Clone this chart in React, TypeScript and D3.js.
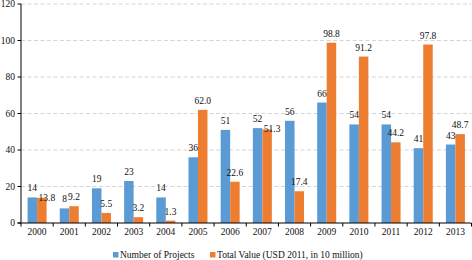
import React from "react";
import * as d3 from "d3";

const years = ["2000","2001","2002","2003","2004","2005","2006","2007","2008","2009","2010","2011","2012","2013"];
const projects = [14, 8, 19, 23, 14, 36, 51, 52, 56, 66, 54, 54, 41, 43];
const totalValue = [13.8, 9.2, 5.5, 3.2, 1.3, 62.0, 22.6, 51.3, 17.4, 98.8, 91.2, 44.2, 97.8, 48.7];
const yTicks = [0, 20, 40, 60, 80, 100, 120];
const seriesNames = ["Number of Projects", "Total Value (USD 2011, in 10 million)"];

const W = 472, H = 260;
const left = 21, right = 471.5, top = 4, bottom = 223;
const BLUE = "#5B9BD5", ORANGE = "#ED7D31";
const FONT = "'Liberation Serif', 'Times New Roman', serif";
const FS = 9.5;

export default function App() {
  const x = d3.scaleBand<string>().domain(years).range([left, right]).padding(0);
  const y = d3.scaleLinear().domain([0, 120]).range([bottom, top]);
  const groupW = 19;
  const sub = d3.scaleBand<string>().domain(["a", "b"]).range([0, groupW]).padding(0);
  const bw = sub.bandwidth();
  const off = (x.bandwidth() - groupW) / 2;

  const labelW = (s: string) => s.length * FS * 0.48;

  return (
    <svg width={W} height={H} style={{ position: "absolute", left: 0, top: 0 }} fontFamily={FONT}>
      <rect width={W} height={H} fill="#fff" />
      {yTicks.filter(t => t > 0).map(t => (
        <line key={"g" + t} x1={left} x2={right} y1={y(t)} y2={y(t)} stroke="#d4d4d4" strokeWidth={1} strokeDasharray="4,2.5" />
      ))}
      {years.map((yr, i) => {
        const x0 = (x(yr) as number) + off;
        const bx = x0 + (sub("a") as number);
        const ox = x0 + (sub("b") as number);
        const bTop = y(projects[i]);
        const oTop = y(totalValue[i]);
        const bLabel = String(projects[i]);
        const oLabel = totalValue[i].toFixed(1);
        const bCx = bx + bw / 2, oCx = ox + bw / 2;
        const bBase = bTop - 6;
        let oBase = oTop - 6;
        let oX = oCx;
        // collision with blue label
        const bL = bCx - labelW(bLabel) / 2, bR = bCx + labelW(bLabel) / 2;
        const oL = oCx - labelW(oLabel) / 2;
        if (Math.abs(oBase - bBase) < FS && oL < bR && bL < oCx + labelW(oLabel) / 2) {
          oBase = oTop + 3;
          oX = oCx + 5;
        }
        return (
          <g key={yr}>
            <rect x={bx} y={bTop} width={bw} height={bottom - bTop} fill={BLUE} />
            <rect x={ox} y={oTop} width={bw} height={bottom - oTop} fill={ORANGE} />
            <text x={bCx} y={bBase} textAnchor="middle" fontSize={FS} fill="#111">{bLabel}</text>
            <text x={oX} y={oBase} textAnchor="middle" fontSize={FS} fill="#111">{oLabel}</text>
            <text x={(x(yr) as number) + x.bandwidth() / 2} y={235} textAnchor="middle" fontSize={FS} fill="#111">{yr}</text>
          </g>
        );
      })}
      {/* y axis */}
      <line x1={left} x2={left} y1={top} y2={bottom} stroke="#000" strokeWidth={1} />
      {yTicks.map(t => (
        <g key={"t" + t}>
          <line x1={left - 3.5} x2={left} y1={y(t)} y2={y(t)} stroke="#000" strokeWidth={1} />
          <text x={15} y={y(t) + 3.2} textAnchor="end" fontSize={FS} fill="#111">{t}</text>
        </g>
      ))}
      {/* x axis */}
      <line x1={left - 3.5} x2={right} y1={bottom} y2={bottom} stroke="#000" strokeWidth={1} />
      {years.map(yr => (
        <line key={"xt" + yr} x1={(x(yr) as number) + x.bandwidth()} x2={(x(yr) as number) + x.bandwidth()} y1={bottom} y2={bottom + 3.5} stroke="#000" strokeWidth={1} />
      ))}
      <line x1={left} x2={left} y1={bottom} y2={bottom + 3.5} stroke="#000" strokeWidth={1} />
      {/* legend */}
      <rect x={113} y={252} width={5.5} height={5.5} fill={BLUE} />
      <text x={120} y={258} fontSize={FS} fill="#111">{seriesNames[0]}</text>
      <rect x={210} y={252} width={5.5} height={5.5} fill={ORANGE} />
      <text x={217} y={258} fontSize={FS} fill="#111">{seriesNames[1]}</text>
    </svg>
  );
}
